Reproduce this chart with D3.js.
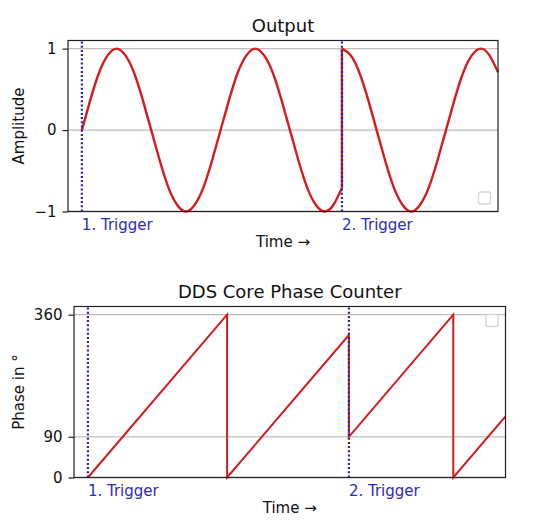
<!DOCTYPE html>
<html>
<head>
<meta charset="utf-8">
<script src="https://cdn.jsdelivr.net/npm/d3@7"></script>
<style>
  body { margin: 0; background: #fff; }
  text { font-family: "DejaVu Sans", sans-serif; fill: #111; }
</style>
</head>
<body>
<div id="chart"></div>
<script>
// sine output, segment before the 2nd trigger (time in degrees of phase advance)
const sineTime1 = [0, 22.5, 45, 67.5, 90, 112.5, 135, 157.5, 180, 202.5, 225, 247.5, 270, 292.5, 315,
                   337.5, 360, 382.5, 405, 427.5, 450, 472.5, 495, 517.5, 540, 562.5, 585, 607.5, 630, 652.5, 675];
const sineAmp1  = [0, 0.38, 0.71, 0.92, 1, 0.92, 0.71, 0.38, 0, -0.38, -0.71, -0.92, -1, -0.92, -0.71,
                   -0.38, 0, 0.38, 0.71, 0.92, 1, 0.92, 0.71, 0.38, 0, -0.38, -0.71, -0.92, -1, -0.92, -0.71];
// sine output after the 2nd trigger (restarts at 90 deg)
const sineTime2 = [675, 697.5, 720, 742.5, 765, 787.5, 810, 832.5, 855, 877.5, 900, 922.5, 945, 967.5,
                   990, 1012.5, 1035, 1057.5, 1080];
const sineAmp2  = [1, 0.92, 0.71, 0.38, 0, -0.38, -0.71, -0.92, -1, -0.92, -0.71, -0.38, 0, 0.38,
                   0.71, 0.92, 1, 0.92, 0.71];

// phase counter (sawtooth)
const phaseTime = [0, 360, 360, 675, 675, 945, 945, 1080];
const phaseVal  = [0, 360, 0, 315, 90, 360, 0, 135];

// triggers
const triggerTime  = [0, 675];
const triggerLabel = ["1. Trigger", "2. Trigger"];

// ticks
const ampTicks   = [-1, 0, 1];
const ampLabels  = ["\u22121", "0", "1"];
const phaseTicks = [0, 90, 360];
const phaseLabels = ["0", "90", "360"];

const timeDomain = [-36, 1080];

var svg = d3.select("#chart").append("svg")
    .attr("width", 538)
    .attr("height", 524);

var red = "#d41c1c", blue = "#2b2bbf", dotBlue = "#2424b0";

function panel(box, yDomain, ticks, labels, title, ylabel, legendPos) {
  var x = d3.scaleLinear().domain(timeDomain).range([box.left, box.right]);
  var y = d3.scaleLinear().domain(yDomain).range([box.bottom, box.top]);
  var g = svg.append("g");

  // horizontal grid
  g.selectAll(".grid")
      .data(ticks)
    .enter().append("line")
      .attr("x1", box.left).attr("x2", box.right)
      .attr("y1", function(d) { return y(d); })
      .attr("y2", function(d) { return y(d); })
      .attr("stroke", "#bdbdbd")
      .attr("stroke-width", 1.3);

  // y axis
  var axis = d3.axisLeft(y)
      .tickValues(ticks)
      .tickSize(5.5)
      .tickPadding(6)
      .tickFormat(function(d, i) { return labels[i]; });
  var ag = g.append("g")
      .attr("transform", "translate(" + box.left + ",0)")
      .call(axis);
  ag.select(".domain").remove();
  ag.selectAll(".tick line").attr("stroke", "#222").attr("stroke-width", 1.2);
  ag.selectAll(".tick text")
      .style("font-family", "DejaVu Sans, sans-serif")
      .style("font-size", "15px")
      .attr("fill", "#111");

  // empty legend frame
  var lx = legendPos.right ? box.right - 7.5 - 12 : box.left + 7.5;
  var ly = legendPos.top ? box.top + 8 : box.bottom - 7.5 - 12;
  g.append("rect")
      .attr("x", lx).attr("y", ly)
      .attr("width", 12).attr("height", 12)
      .attr("rx", 2)
      .attr("fill", "#fff")
      .attr("stroke", "#d6d6d6")
      .attr("stroke-width", 1.3);

  // title
  g.append("text")
      .attr("x", (box.left + box.right) / 2)
      .attr("y", box.top - 9)
      .attr("text-anchor", "middle")
      .style("font-size", "18px")
      .text(title);

  // y label
  g.append("text")
      .attr("transform", "translate(24," + (box.top + box.bottom) / 2 + ") rotate(-90)")
      .attr("text-anchor", "middle")
      .style("font-size", "15px")
      .text(ylabel);

  // x label
  g.append("text")
      .attr("x", (box.left + box.right) / 2)
      .attr("y", box.bottom + 35)
      .attr("text-anchor", "middle")
      .style("font-size", "15px")
      .text("Time \u2192");

  return {g: g, x: x, y: y};
}

function triggers(p, box) {
  p.g.selectAll(".trig")
      .data(triggerTime)
    .enter().append("line")
      .attr("x1", function(d) { return p.x(d); })
      .attr("x2", function(d) { return p.x(d); })
      .attr("y1", box.top + 1)
      .attr("y2", box.bottom)
      .attr("stroke", dotBlue)
      .attr("stroke-width", 2.2)
      .attr("stroke-dasharray", "2,2.2");

  p.g.selectAll(".trigLabel")
      .data(triggerTime)
    .enter().append("text")
      .attr("x", function(d) { return p.x(d); })
      .attr("y", box.bottom + 18)
      .style("font-size", "15px")
      .style("fill", blue)
      .text(function(d, i) { return triggerLabel[i]; });
}

function spine(p, box) {
  p.g.append("rect")
      .attr("x", box.left).attr("y", box.top)
      .attr("width", box.right - box.left)
      .attr("height", box.bottom - box.top)
      .attr("fill", "none")
      .attr("stroke", "#222")
      .attr("stroke-width", 1.2);
}

// ---- top: Output ----
var box1 = {left: 68, right: 498, top: 40.5, bottom: 211.5};
var p1 = panel(box1, [-1, 1.1], ampTicks, ampLabels, "Output", "Amplitude", {right: true, top: false});

var sineLine = d3.line()
    .x(function(d) { return p1.x(d[0]); })
    .y(function(d) { return p1.y(d[1]); })
    .curve(d3.curveNatural);

var seg1 = sineTime1.map(function(t, i) { return [t, sineAmp1[i]]; });
var seg2 = sineTime2.map(function(t, i) { return [t, sineAmp2[i]]; });
var jump = [seg1[seg1.length - 1], seg2[0]];

[seg1, seg2].forEach(function(s) {
  p1.g.append("path")
      .datum(s)
      .attr("d", sineLine)
      .attr("fill", "none")
      .attr("stroke", red)
      .attr("stroke-width", 2.4);
});
p1.g.append("path")
    .datum(jump)
    .attr("d", d3.line().x(function(d) { return p1.x(d[0]); }).y(function(d) { return p1.y(d[1]); }))
    .attr("fill", "none")
    .attr("stroke", red)
    .attr("stroke-width", 2.4);

triggers(p1, box1);
spine(p1, box1);

// ---- bottom: DDS Core Phase Counter ----
var box2 = {left: 74, right: 505.5, top: 306.5, bottom: 477.5};
var p2 = panel(box2, [0, 378], phaseTicks, phaseLabels, "DDS Core Phase Counter", "Phase in \u00b0", {right: true, top: true});

p2.g.append("path")
    .datum(phaseTime.map(function(t, i) { return [t, phaseVal[i]]; }))
    .attr("d", d3.line()
        .x(function(d) { return p2.x(d[0]); })
        .y(function(d) { return p2.y(d[1]); }))
    .attr("fill", "none")
    .attr("stroke", red)
    .attr("stroke-width", 2)
    .attr("stroke-linejoin", "miter");

triggers(p2, box2);
spine(p2, box2);
</script>
</body>
</html>
